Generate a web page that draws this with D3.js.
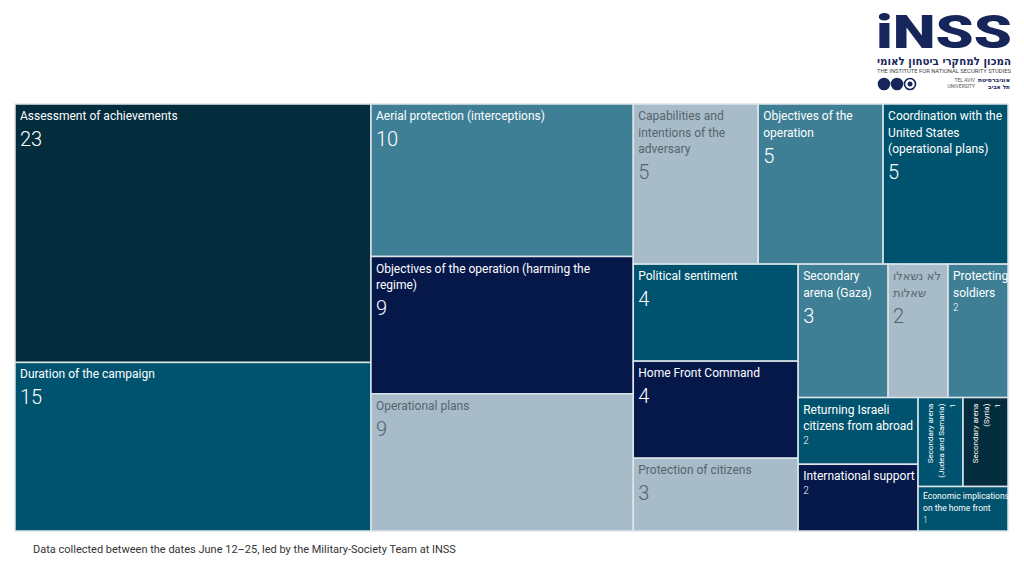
<!DOCTYPE html>
<html>
<head>
<meta charset="utf-8">
<script src="https://cdn.jsdelivr.net/npm/d3@7"></script>
<style>
  html, body { margin: 0; padding: 0; background: #ffffff; }
  svg { display: block; font-family: Roboto, "Open Sans", "DejaVu Sans", sans-serif; }
</style>
</head>
<body>
<svg id="chart" width="1024" height="563"></svg>
<script>
// ---- DATA ----
const categories = [
  "Assessment of achievements",
  "Duration of the campaign",
  "Aerial protection (interceptions)",
  "Objectives of the operation (harming the\nregime)",
  "Operational plans",
  "Capabilities and\nintentions of the\nadversary",
  "Objectives of the\noperation",
  "Coordination with the\nUnited States\n(operational plans)",
  "Political sentiment",
  "Home Front Command",
  "Protection of citizens",
  "Secondary\narena (Gaza)",
  "לא נשאלו\nשאלות",
  "Protecting\nsoldiers",
  "Returning Israeli\ncitizens from abroad",
  "International support",
  "Secondary arena\n(Judea and Samaria)",
  "Secondary arena\n(Syria)",
  "Economic implications\non the home front"
];
const values = [23, 15, 10, 9, 9, 5, 5, 5, 4, 4, 3, 3, 2, 2, 2, 2, 1, 1, 1];
const footnote = "Data collected between the dates June 12\u201325, led by the Military-Society Team at INSS";

// ---- STYLE (by category index) ----
const DARK = "#032c3c", TEAL = "#00536e", MID = "#3e7f96", NAVY = "#06174a", LIGHT = "#a7bcc8";
const fills = [DARK, TEAL, MID, NAVY, LIGHT, LIGHT, MID, TEAL, TEAL, NAVY, LIGHT, MID, LIGHT, MID, TEAL, NAVY, TEAL, DARK, TEAL];
const styleClass = ["big","big","big","big","big","big","big","big","big","big","big","big","big",
                    "mid","mid","mid","rot","rot","tiny"];
const hebrew = /[\u0590-\u05FF]/;

const svg = d3.select("#chart");
const X0 = 15, Y0 = 104, W = 993, H = 427;

const root = d3.hierarchy({children: categories.map((c, i) => ({name: c, value: values[i], idx: i}))})
  .sum(d => d.value || 0);

d3.treemap().size([W, H]).tile(d3.treemapSquarify).round(false)(root);

const g = svg.append("g").attr("transform", `translate(${X0},${Y0})`);

const cells = g.selectAll("g.cell").data(root.leaves()).join("g")
  .attr("class", "cell")
  .attr("transform", d => `translate(${d.x0},${d.y0})`);

cells.append("rect")
  .attr("width", d => d.x1 - d.x0)
  .attr("height", d => d.y1 - d.y0)
  .attr("fill", d => fills[d.data.idx])
  .attr("stroke", "#dde5ea")
  .attr("stroke-width", 1.5);

cells.each(function(d) {
  const sel = d3.select(this);
  const i = d.data.idx;
  const light = fills[i] === LIGHT;
  const col = light ? "#56636d" : "#ffffff";
  const lines = d.data.name.split("\n");
  const cls = styleClass[i];
  if (cls === "rot") {
    const t = sel.append("g").attr("transform", `translate(6,6) rotate(-90)`);
    const all = lines.concat([String(d.data.value)]);
    all.forEach((ln, k) => {
      t.append("text")
        .attr("x", 0)
        .attr("y", 9 + k * 11)
        .attr("text-anchor", "end")
        .attr("font-size", 8)
        .attr("fill", col)
        .text(ln);
    });
    return;
  }
  let fsL = 12, lh = 16.5, base = 16, fsV = 20, gapV = 26;
  if (cls === "mid") { fsV = 10; gapV = 14; }
  if (cls === "tiny") { fsL = 8.5; lh = 12; base = 12; fsV = 8.5; gapV = 12; }
  lines.forEach((ln, k) => {
    const t = sel.append("text")
      .attr("x", 5)
      .attr("y", base + k * lh)
      .attr("font-size", fsL)
      .attr("fill", col)
      .text(ln);
    if (hebrew.test(ln)) t.attr("font-family", "'DejaVu Sans', sans-serif").attr("font-size", 11.5);
  });
  sel.append("text")
    .attr("x", 5)
    .attr("y", base + (lines.length - 1) * lh + gapV)
    .attr("font-size", fsV)
    .attr("font-weight", 300)
    .attr("fill", col)
    .text(d.data.value);
});

// footnote
svg.append("text")
  .attr("x", 33).attr("y", 553)
  .attr("font-size", 11)
  .attr("fill", "#333333")
  .text(footnote);

// logo
const logo = svg.append("g").attr("transform", "translate(876,0)");
logo.append("text")
  .attr("x", 0).attr("y", 48)
  .attr("font-size", 46)
  .attr("font-weight", 900)
  .attr("fill", "#17265a")
  .attr("textLength", 136)
  .attr("lengthAdjust", "spacingAndGlyphs")
  .text("iNSS");
logo.append("text")
  .attr("x", 1).attr("y", 65)
  .attr("font-size", 11)
  .attr("font-weight", 700)
  .attr("fill", "#17265a")
  .attr("font-family", "'DejaVu Sans', sans-serif")
  .attr("textLength", 134)
  .attr("lengthAdjust", "spacingAndGlyphs")
  .text("המכון למחקרי ביטחון לאומי");
logo.append("text")
  .attr("x", 1).attr("y", 73)
  .attr("font-size", 5)
  .attr("fill", "#444")
  .attr("textLength", 134)
  .attr("lengthAdjust", "spacingAndGlyphs")
  .text("THE INSTITUTE FOR NATIONAL SECURITY STUDIES");
[0, 1, 2].forEach(k => {
  logo.append("circle").attr("cx", 8 + k * 13).attr("cy", 84).attr("r", 5.5)
    .attr("fill", k < 2 ? "#17265a" : "none").attr("stroke", "#17265a").attr("stroke-width", 1.6);
  if (k === 2) logo.append("circle").attr("cx", 8 + k * 13).attr("cy", 84).attr("r", 2.5).attr("fill", "#17265a");
});
logo.append("text").attr("x", 99).attr("y", 82).attr("text-anchor", "end")
  .attr("font-size", 5).attr("fill", "#555").text("TEL AVIV");
logo.append("text").attr("x", 99).attr("y", 88).attr("text-anchor", "end")
  .attr("font-size", 5).attr("fill", "#555").text("UNIVERSITY");
logo.append("text").attr("x", 102).attr("y", 82)
  .attr("font-size", 5.5).attr("font-weight", 700).attr("fill", "#17265a")
  .attr("font-family", "'DejaVu Sans', sans-serif")
  .attr("textLength", 32).attr("lengthAdjust", "spacingAndGlyphs").text("אוניברסיטת");
logo.append("text").attr("x", 112).attr("y", 89)
  .attr("font-size", 5.5).attr("font-weight", 700).attr("fill", "#17265a")
  .attr("font-family", "'DejaVu Sans', sans-serif")
  .attr("textLength", 22).attr("lengthAdjust", "spacingAndGlyphs").text("תל אביב");
</script>
</body>
</html>
